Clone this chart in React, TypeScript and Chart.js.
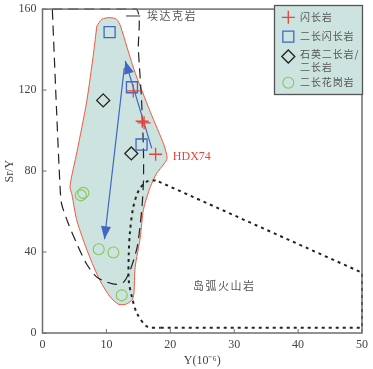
import { useEffect, useRef } from 'react';
import { Chart, registerables } from 'chart.js';
Chart.register(...registerables);

// ---- axis ticks ----
const xTicks = [0, 10, 20, 30, 40, 50];
const yTicks = [0, 40, 80, 120, 160];

// ---- samples ----
const dioriteX = [14.2, 15.6, 15.9, 17.7];
const dioriteY = [119.6, 104.6, 103.8, 88.3];
const monzodioriteX = [10.5, 14.0, 15.5];
const monzodioriteY = [148.6, 121.4, 93.1];
const monzoniteX = [9.5, 13.9];
const monzoniteY = [114.9, 88.7];
const graniteX = [6.4, 6.0, 8.8, 11.1, 12.4];
const graniteY = [69.2, 68.0, 41.4, 39.8, 18.6];

// ---- sample field (red outline) ----
const fieldX = [8.5, 9.3, 10.5, 11.6, 12.2, 14.3, 16.9, 19.0, 19.5, 19.0, 17.9, 16.9, 15.8, 15.3, 14.5, 14.3, 14.0, 13.0, 11.9, 10.6, 9.0, 7.2, 5.4, 4.6, 4.3, 5.4, 6.9, 8.0, 8.5];
const fieldY = [151.6, 155, 155.8, 155, 151.6, 130.3, 109, 92.9, 86.3, 83.5, 79, 72.4, 61, 47.1, 32.5, 19.4, 16.2, 14.2, 14.2, 17.8, 25.9, 39, 55.3, 68.4, 72.5, 89.6, 114, 138.5, 151.6];

// ---- adakite field (dashed) ----
const adakiteX = [1.54, 8, 14.7, 15.0, 15.5, 15.8, 15.8, 15.6, 15.3, 14.8, 13.7, 12.7, 11.6, 10.1, 8.5, 6.9, 5.4, 4.05, 3.0, 2.75, 2.2, 1.54];
const adakiteY = [160, 160, 160, 140, 115, 90, 75, 63.5, 53.7, 42.2, 30.8, 25.1, 24, 25.1, 27.6, 34.1, 43.9, 54, 63.6, 72, 110, 160];

// ---- island arc field (dotted) ----
const arcCurveX = [17.7, 16.2, 15.0, 14.2, 13.7, 13.5, 13.5, 14.0, 14.8, 16.4, 18.5];
const arcCurveY = [75.5, 74.6, 70, 62, 50.4, 39, 25.9, 17.8, 9.6, 3.1, 2.6];
const arcEdgeX = [18.5, 50, 50, 17.7];
const arcEdgeY = [2.6, 2.6, 29.8, 75.5];

// ---- trend arrows ----
const arrowUpX = [17.1, 12.95];
const arrowUpY = [91.2, 134.4];
const arrowDownX = [12.8, 9.7];
const arrowDownY = [131, 46.3];

// ---- labels ----
const legendLabels = ['闪长岩', '二长闪长岩', '石英二长岩/', '二长岩', '二长花岗岩'];
const adakiteLabel = '埃达克岩';
const arcLabel = '岛弧火山岩';
const sampleLabel = 'HDX74';

const RED = '#e8433a';
const BLUE = '#4166c4';
const BLACK = '#222222';
const GREEN = '#86c75a';
const FILL = 'rgb(205,227,223)';
const SERIF = "'Liberation Serif', 'Times New Roman', serif";
const CJK = "'Noto Sans CJK SC', sans-serif";

const pts = (xs: number[], ys: number[]) => xs.map((x, i) => ({ x, y: ys[i] }));

export default function App() {
  const ref = useRef<HTMLCanvasElement | null>(null);
  useEffect(() => {
    if (!ref.current) return;

    const drawMarker = (ctx: CanvasRenderingContext2D, kind: string, x: number, y: number) => {
      ctx.save();
      ctx.beginPath();
      if (kind === 'cross') {
        ctx.strokeStyle = RED; ctx.lineWidth = 1.3;
        ctx.moveTo(x - 6.5, y); ctx.lineTo(x + 6.5, y);
        ctx.moveTo(x, y - 6.5); ctx.lineTo(x, y + 6.5);
      } else if (kind === 'rect') {
        ctx.strokeStyle = BLUE; ctx.lineWidth = 1.3;
        ctx.rect(x - 5.5, y - 5.5, 11, 11);
      } else if (kind === 'diamond') {
        ctx.strokeStyle = BLACK; ctx.lineWidth = 1.3;
        ctx.moveTo(x - 6.5, y); ctx.lineTo(x, y - 6.5); ctx.lineTo(x + 6.5, y); ctx.lineTo(x, y + 6.5); ctx.closePath();
      } else {
        ctx.strokeStyle = GREEN; ctx.lineWidth = 1.1;
        ctx.arc(x, y, 5.5, 0, Math.PI * 2);
      }
      ctx.stroke();
      ctx.restore();
    };

    const decor = {
      id: 'decor',
      afterDatasetsDraw(chart: any) {
        const ctx: CanvasRenderingContext2D = chart.ctx;
        const xs = chart.scales.x, ys = chart.scales.y;
        const { left, right, top, bottom } = chart.chartArea;
        // arrowheads
        const head = (ax: number[], ay: number[]) => {
          const x0 = xs.getPixelForValue(ax[0]), y0 = ys.getPixelForValue(ay[0]);
          const x1 = xs.getPixelForValue(ax[1]), y1 = ys.getPixelForValue(ay[1]);
          const a = Math.atan2(y1 - y0, x1 - x0);
          const L = 13, W = 5;
          ctx.save();
          ctx.fillStyle = BLUE;
          ctx.beginPath();
          ctx.moveTo(x1, y1);
          ctx.lineTo(x1 - L * Math.cos(a) + W * Math.sin(a), y1 - L * Math.sin(a) - W * Math.cos(a));
          ctx.lineTo(x1 - L * Math.cos(a) - W * Math.sin(a), y1 - L * Math.sin(a) + W * Math.cos(a));
          ctx.closePath();
          ctx.fill();
          ctx.restore();
        };
        head(arrowUpX, arrowUpY);
        head(arrowDownX, arrowDownY);

        // frame
        ctx.save();
        ctx.strokeStyle = '#6e6e6e';
        ctx.lineWidth = 1.5;
        ctx.strokeRect(left, top, right - left, bottom - top);
        // inner ticks
        ctx.lineWidth = 1;
        ctx.beginPath();
        xTicks.forEach((v) => {
          const px = xs.getPixelForValue(v);
          ctx.moveTo(px, bottom); ctx.lineTo(px, bottom - 4);
        });
        yTicks.forEach((v) => {
          const py = ys.getPixelForValue(v);
          ctx.moveTo(left, py); ctx.lineTo(left + 4, py);
        });
        ctx.stroke();
        ctx.restore();

        // text annotations
        ctx.save();
        ctx.textBaseline = 'middle';
        ctx.textAlign = 'left';
        ctx.fillStyle = RED;
        ctx.font = `12px ${SERIF}`;
        ctx.fillText(sampleLabel, xs.getPixelForValue(20.4), ys.getPixelForValue(87.1));
        ctx.fillStyle = '#555';
        ctx.font = `11px ${CJK}`;
        (ctx as any).letterSpacing = '1.5px';
        ctx.fillText(adakiteLabel, xs.getPixelForValue(16.35), ys.getPixelForValue(156.6));
        ctx.fillText(arcLabel, xs.getPixelForValue(23.55), ys.getPixelForValue(23.5));
        (ctx as any).letterSpacing = '0px';
        ctx.strokeStyle = '#333';
        ctx.lineWidth = 1;
        ctx.beginPath();
        ctx.moveTo(xs.getPixelForValue(13.07), ys.getPixelForValue(156.6));
        ctx.lineTo(xs.getPixelForValue(15.3), ys.getPixelForValue(156.6));
        ctx.stroke();
        ctx.restore();

        // legend
        const bx = 274.5, by = 5.5, bw = 88, bh = 89;
        ctx.save();
        ctx.fillStyle = FILL;
        ctx.fillRect(bx, by, bw, bh);
        ctx.strokeStyle = '#555';
        ctx.lineWidth = 1.3;
        ctx.strokeRect(bx, by, bw, bh);
        ctx.restore();
        drawMarker(ctx, 'cross', 288.3, 17.3);
        drawMarker(ctx, 'rect', 288.3, 36.7);
        drawMarker(ctx, 'diamond', 288.3, 56.5);
        drawMarker(ctx, 'circle', 288.3, 82.7);
        ctx.save();
        ctx.fillStyle = '#555';
        ctx.font = `10px ${CJK}`;
        (ctx as any).letterSpacing = '0.9px';
        ctx.textBaseline = 'middle';
        ctx.textAlign = 'left';
        ctx.fillText(legendLabels[0], 300, 17.3);
        ctx.fillText(legendLabels[1], 300, 36.7);
        ctx.fillText(legendLabels[2], 300, 54.3);
        ctx.fillText(legendLabels[3], 300, 67);
        ctx.fillText(legendLabels[4], 300, 82.7);
        ctx.restore();
      },
    };

    const chart = new Chart(ref.current, {
      type: 'scatter',
      data: {
        datasets: [
          {
            label: 'field', data: pts(fieldX, fieldY), showLine: true, fill: 'shape',
            backgroundColor: FILL, borderColor: '#f0583e', borderWidth: 1, tension: 0.25,
            pointRadius: 0, order: 10,
          } as any,
          {
            label: 'adakite', data: pts(adakiteX, adakiteY), showLine: true, fill: false,
            borderColor: BLACK, borderWidth: 1.2, borderDash: [10, 6], tension: 0.25,
            pointRadius: 0, order: 8, clip: 4,
          },
          {
            label: 'arcCurve', data: pts(arcCurveX, arcCurveY), showLine: true, fill: false,
            borderColor: BLACK, borderWidth: 2, borderDash: [3, 4], tension: 0.3,
            pointRadius: 0, order: 8, clip: 4,
          },
          {
            label: 'arcEdge', data: pts(arcEdgeX, arcEdgeY), showLine: true, fill: false,
            borderColor: BLACK, borderWidth: 2, borderDash: [3, 4], tension: 0,
            pointRadius: 0, order: 8, clip: 4,
          },
          {
            label: 'up', data: pts(arrowUpX, arrowUpY), showLine: true, fill: false,
            borderColor: BLUE, borderWidth: 1.2, pointRadius: 0, order: 6,
          },
          {
            label: 'down', data: pts(arrowDownX, arrowDownY), showLine: true, fill: false,
            borderColor: BLUE, borderWidth: 1.2, pointRadius: 0, order: 6,
          },
          {
            label: '闪长岩', data: pts(dioriteX, dioriteY), pointStyle: 'cross', pointRadius: 6.5,
            borderColor: RED, pointBorderWidth: 1.3, backgroundColor: 'transparent', order: 1,
          },
          {
            label: '二长闪长岩', data: pts(monzodioriteX, monzodioriteY), pointStyle: 'rect', pointRadius: 7.8,
            borderColor: BLUE, pointBorderWidth: 1.3, backgroundColor: 'transparent', order: 1,
          },
          {
            label: '石英二长岩/二长岩', data: pts(monzoniteX, monzoniteY), pointStyle: 'rectRot', pointRadius: 6.5,
            borderColor: BLACK, pointBorderWidth: 1.3, backgroundColor: 'transparent', order: 1,
          },
          {
            label: '二长花岗岩', data: pts(graniteX, graniteY), pointStyle: 'circle', pointRadius: 5.5,
            borderColor: GREEN, pointBorderWidth: 1.1, backgroundColor: 'transparent', order: 1,
          },
        ],
      },
      options: {
        animation: false,
        responsive: true,
        maintainAspectRatio: false,
        layout: { padding: { left: 0, right: 11, top: 6, bottom: 0 } },
        plugins: { legend: { display: false }, tooltip: { enabled: false } },
        scales: {
          x: {
            type: 'linear', min: 0, max: 50,
            afterFit: (s: any) => { s.height = 36; s.paddingLeft = 0; s.paddingRight = 0; },
            afterBuildTicks: (s: any) => { s.ticks = xTicks.map((v) => ({ value: v })); },
            grid: { display: false, drawTicks: false },
            border: { display: false },
            ticks: { padding: 5, color: '#444', font: { family: SERIF, size: 12 } },
            title: { display: true, text: 'Y(10⁻⁶)', color: '#444', font: { family: SERIF, size: 12 }, padding: { top: 0, bottom: 1 } },
          },
          y: {
            type: 'linear', min: 0, max: 160,
            afterFit: (s: any) => { s.width = 42.5; s.paddingTop = 0; s.paddingBottom = 0; },
            afterBuildTicks: (s: any) => { s.ticks = yTicks.map((v) => ({ value: v })); },
            grid: { display: false, drawTicks: false },
            border: { display: false },
            ticks: { padding: 6, color: '#444', font: { family: SERIF, size: 12 } },
            title: { display: true, text: 'Sr/Y', color: '#444', font: { family: SERIF, size: 12 }, padding: { top: 3, bottom: 0 } },
          },
        },
      },
      plugins: [decor],
    });
    return () => chart.destroy();
  }, []);

  return (
    <div style={{ position: 'fixed', left: 0, top: 0, width: 373, height: 369, background: '#fff' }}>
      <canvas ref={ref} />
    </div>
  );
}
